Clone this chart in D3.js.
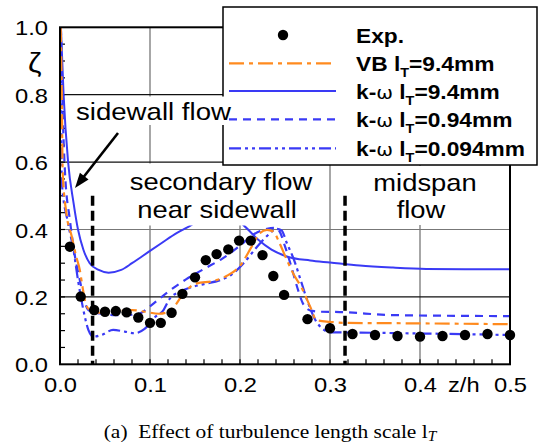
<!DOCTYPE html>
<html><head><meta charset="utf-8">
<script src="https://cdn.jsdelivr.net/npm/d3@7/dist/d3.min.js"></script>
<style>body{margin:0;background:#fff}svg{display:block}</style>
</head><body>
<script>
// ---------- data ----------
const expX = [0.011,0.023,0.038,0.050,0.062,0.074,0.087,0.100,0.112,0.124,0.136,0.150,0.162,0.174,0.187,0.199,0.212,0.225,0.237,0.249,0.275,0.300,0.325,0.350,0.375,0.400,0.425,0.450,0.475,0.500];
const expY = [0.349,0.201,0.161,0.156,0.158,0.154,0.139,0.123,0.123,0.153,0.209,0.258,0.309,0.327,0.341,0.367,0.367,0.324,0.262,0.206,0.134,0.107,0.090,0.087,0.084,0.082,0.084,0.087,0.090,0.087];

const vbX = [0.0008,0.002,0.003,0.007,0.013,0.018,0.022,0.025,0.028,0.033,0.043,0.061,0.080,0.094,0.110,0.120,0.128,0.137,0.152,0.170,0.185,0.200,0.213,0.222,0.230,0.237,0.244,0.252,0.260,0.268,0.278,0.285,0.300,0.315,0.370,0.500];
const vbY = [1.0,0.80,0.57,0.45,0.38,0.32,0.28,0.23,0.186,0.161,0.153,0.156,0.161,0.156,0.150,0.155,0.175,0.21,0.24,0.247,0.262,0.292,0.349,0.389,0.399,0.394,0.359,0.31,0.265,0.23,0.171,0.131,0.126,0.123,0.122,0.119];

const kw94X = [0.001,0.004,0.009,0.015,0.020,0.026,0.033,0.043,0.054,0.068,0.080,0.091,0.113,0.130,0.144,0.165,0.185,0.205,0.220,0.235,0.252,0.278,0.300,0.333,0.370,0.407,0.450,0.500];
const kw94Y = [1.0,0.80,0.60,0.48,0.40,0.34,0.30,0.28,0.272,0.28,0.30,0.32,0.36,0.39,0.41,0.44,0.445,0.41,0.37,0.34,0.32,0.308,0.302,0.293,0.287,0.283,0.282,0.282];

const kw094X = [0.001,0.003,0.0056,0.011,0.0167,0.022,0.026,0.0315,0.044,0.063,0.080,0.089,0.100,0.120,0.140,0.160,0.180,0.200,0.215,0.230,0.238,0.244,0.250,0.257,0.264,0.270,0.278,0.290,0.311,0.370,0.500];
const kw094Y = [1.0,0.75,0.567,0.428,0.319,0.25,0.20,0.161,0.151,0.146,0.147,0.151,0.172,0.215,0.252,0.283,0.313,0.352,0.385,0.402,0.405,0.394,0.35,0.29,0.225,0.18,0.16,0.156,0.155,0.146,0.143];

const kw0094X = [0.001,0.002,0.009,0.015,0.020,0.026,0.0315,0.037,0.046,0.059,0.072,0.083,0.094,0.106,0.115,0.122,0.133,0.145,0.160,0.178,0.190,0.204,0.219,0.233,0.240,0.246,0.252,0.260,0.268,0.276,0.284,0.292,0.300,0.333,0.500];
const kw0094Y = [1.0,0.54,0.418,0.339,0.25,0.161,0.102,0.082,0.087,0.102,0.097,0.092,0.105,0.141,0.161,0.195,0.215,0.228,0.238,0.25,0.265,0.30,0.349,0.388,0.402,0.398,0.36,0.31,0.245,0.18,0.13,0.105,0.095,0.094,0.087];

const xTicks = [0,0.1,0.2,0.3,0.4,0.5];
const yTicks = [0,0.2,0.4,0.6,0.8,1.0];
const legendLabels = ["Exp.","VB","k-ω","k-ω","k-ω"];
const legendValues = ["","=9.4mm","=9.4mm","=0.94mm","=0.094mm"];

// ---------- setup ----------
const W = 542, H = 444;
const svg = d3.select("body").append("svg").attr("width",W).attr("height",H)
  .style("font-family","'Liberation Sans', Arial, sans-serif");
const x = d3.scaleLinear().domain([0,0.5]).range([60,510]);
const y = d3.scaleLinear().domain([0,1]).range([364.3,27.3]);
const SX = 1.13;

const blue = "#3a3af5", orange = "#ff8a1e";

// gridlines
const grid = svg.append("g");
grid.selectAll("line.v").data([0.1,0.2,0.3,0.4]).join("line")
  .attr("x1",d=>x(d)).attr("x2",d=>x(d)).attr("y1",y(0)).attr("y2",y(1))
  .attr("stroke","#777").attr("stroke-width",1.3);
grid.selectAll("line.h").data([0.2,0.4,0.6,0.8]).join("line")
  .attr("x1",x(0)).attr("x2",x(0.5)).attr("y1",d=>y(d)).attr("y2",d=>y(d))
  .attr("stroke",d=>d===0.4?"#777":"#111").attr("stroke-width",1.2);

// minor ticks
const minorX = d3.range(1,25).map(i=>i*0.02);
svg.append("g").selectAll("line").data(minorX).join("line")
  .attr("x1",d=>x(d)).attr("x2",d=>x(d)).attr("y1",y(0)).attr("y2",y(0)-5)
  .attr("stroke","#000").attr("stroke-width",1.2);
const minorY = d3.range(1,20).map(i=>i*0.05);
svg.append("g").selectAll("line").data(minorY).join("line")
  .attr("x1",x(0)).attr("x2",x(0)+5).attr("y1",d=>y(d)).attr("y2",d=>y(d))
  .attr("stroke","#000").attr("stroke-width",1.2);

// curves
const line = d3.line().x(d=>x(d[0])).y(d=>y(d[1])).curve(d3.curveMonotoneX);
const zip = (a,b)=>a.map((v,i)=>[v,b[i]]);
svg.append("clipPath").attr("id","pc").append("rect")
  .attr("x",x(0)).attr("y",y(1)).attr("width",x(0.5)-x(0)).attr("height",y(0)-y(1));
const curves = svg.append("g").attr("clip-path","url(#pc)");
const series = [
  {d:zip(kw94X,kw94Y), c:blue, dash:null, w:2},
  {d:zip(kw094X,kw094Y), c:blue, dash:"8,6", w:2.2},
  {d:zip(kw0094X,kw0094Y), c:blue, dash:"12,4,3,4,3,4", w:2.2},
  {d:zip(vbX,vbY), c:orange, dash:"15,5,4,5", w:2.2}
];
series.forEach(s=>{
  curves.append("path").attr("d",line(s.d)).attr("fill","none")
    .attr("stroke",s.c).attr("stroke-width",s.w)
    .attr("stroke-dasharray",s.dash);
});
svg.append("g").selectAll("circle").data(zip(expX,expY)).join("circle")
  .attr("cx",d=>x(d[0])).attr("cy",d=>y(d[1])).attr("r",5.2).attr("fill","#000");

// annotation white boxes (region labels)
svg.append("rect").attr("x",100).attr("y",163.5).attr("width",229).attr("height",62).attr("fill","#fff");
svg.append("rect").attr("x",331).attr("y",166).attr("width",178).attr("height",59).attr("fill","#fff");

function txt(str, tx, ty, size, anchor, sx){
  const g = svg.append("g").attr("transform",`translate(${tx},${ty}) scale(${sx||SX},1)`);
  return g.append("text").attr("font-size",size).attr("text-anchor",anchor||"start")
    .attr("fill","#000").text(str);
}
txt("secondary flow", 221, 190, 24, "middle", 1.14);
txt("near sidewall", 217, 218, 24, "middle", 1.14);
txt("midspan", 425, 191, 24, "middle", 1.14);
txt("flow", 421, 218, 24, "middle", 1.14);

// arrow
(function(){
  const x0=118,y0=133,x1=75,y1=188;
  const dx=x1-x0, dy=y1-y0, L=Math.hypot(dx,dy), ux=dx/L, uy=dy/L;
  const hl=15, hw=5.5;
  const bx=x1-ux*hl, by=y1-uy*hl;
  svg.append("line").attr("x1",x0).attr("y1",y0).attr("x2",bx+ux*2).attr("y2",by+uy*2)
    .attr("stroke","#000").attr("stroke-width",2.6);
  svg.append("path").attr("d",`M${x1},${y1}L${bx-uy*hw},${by+ux*hw}L${bx+uy*hw},${by-ux*hw}Z`).attr("fill","#000");
})();

// vertical dashed region lines
[0.0362,0.3167].forEach(v=>{
  svg.append("line").attr("x1",x(v)).attr("x2",x(v)).attr("y1",y(0.5)).attr("y2",y(0))
    .attr("stroke","#000").attr("stroke-width",3.5).attr("stroke-dasharray","10,5");
});

// frame
svg.append("rect").attr("x",x(0)).attr("y",y(1)).attr("width",x(0.5)-x(0)).attr("height",y(0)-y(1))
  .attr("fill","none").attr("stroke","#000").attr("stroke-width",2);

// axes (labels)
const xa = svg.append("g").attr("transform",`translate(0,${y(0)})`)
  .call(d3.axisBottom(x).tickValues(xTicks).tickFormat(d3.format(".1f")).tickSize(0));
xa.select(".domain").remove();
xa.selectAll("text").attr("font-size",21).attr("font-family","'Liberation Sans', Arial, sans-serif")
  .attr("fill","#000").attr("y",0).attr("dy",27.5).attr("transform",`scale(${SX},1)`);
const ya = svg.append("g").attr("transform",`translate(${x(0)},0)`)
  .call(d3.axisLeft(y).tickValues(yTicks).tickFormat(d3.format(".1f")).tickSize(0));
ya.select(".domain").remove();
ya.selectAll("text").attr("font-size",21).attr("font-family","'Liberation Sans', Arial, sans-serif")
  .attr("fill","#000").attr("x",-12/SX).attr("dy","0.36em").attr("transform",`scale(${SX},1)`);

// axis titles
txt("ζ", 28, 72, 27, "start");
txt("z/h", 448, 392, 21, "start");

// legend
const lg = svg.append("g");
lg.append("rect").attr("x",223).attr("y",7).attr("width",314).attr("height",158)
  .attr("fill","#fff").attr("stroke","#000").attr("stroke-width",1.5);
const rowY = [35,63.3,91,119.3,148.3];
lg.append("circle").attr("cx",283).attr("cy",rowY[0]).attr("r",5.2).attr("fill","#000");
const legStyles = [null, series[3], series[0], series[1], series[2]];
for(let i=1;i<5;i++){
  const s = legStyles[i];
  lg.append("line").attr("x1",229).attr("x2",336).attr("y1",rowY[i]).attr("y2",rowY[i])
    .attr("stroke",s.c).attr("stroke-width",s.w).attr("stroke-dasharray",s.dash);
}
for(let i=0;i<5;i++){
  const g = lg.append("g").attr("transform",`translate(356,${rowY[i]+7.5}) scale(1.11,1)`);
  const t = g.append("text").attr("font-size",20.5).attr("font-weight","bold").attr("fill","#000");
  if(i===0){ t.text(legendLabels[0]); continue; }
  if(i===1){ t.append("tspan").text("VB "); }
  else {
    t.append("tspan").text("k-");
    t.append("tspan").attr("font-weight","normal").attr("font-family","'DejaVu Sans', sans-serif").attr("font-size",18).text("ω");
    t.append("tspan").text(" ");
  }
  t.append("tspan").text("l");
  t.append("tspan").attr("font-size",13).attr("dy",6).text("T");
  t.append("tspan").attr("dy",-6).text(legendValues[i]);
}

// "sidewall flow" label with its white box, drawn over the legend edge
svg.append("rect").attr("x",70).attr("y",96.5).attr("width",159).attr("height",28.5).attr("fill","#fff");
txt("sidewall flow", 76, 120, 24, "start", 1.15);

// caption
const capG = svg.append("g").attr("transform","translate(270,438) scale(1.1,1)");
const cap = capG.append("text").attr("x",0).attr("y",0).attr("text-anchor","middle")
  .attr("font-family","'Liberation Serif', 'Times New Roman', serif").attr("font-size",19.5).attr("fill","#000");
cap.append("tspan").text("(a)\u2002Effect of turbulence length scale l");
cap.append("tspan").attr("font-style","italic").attr("font-size",14).attr("dy",3).text("T");
</script>
</body></html>
